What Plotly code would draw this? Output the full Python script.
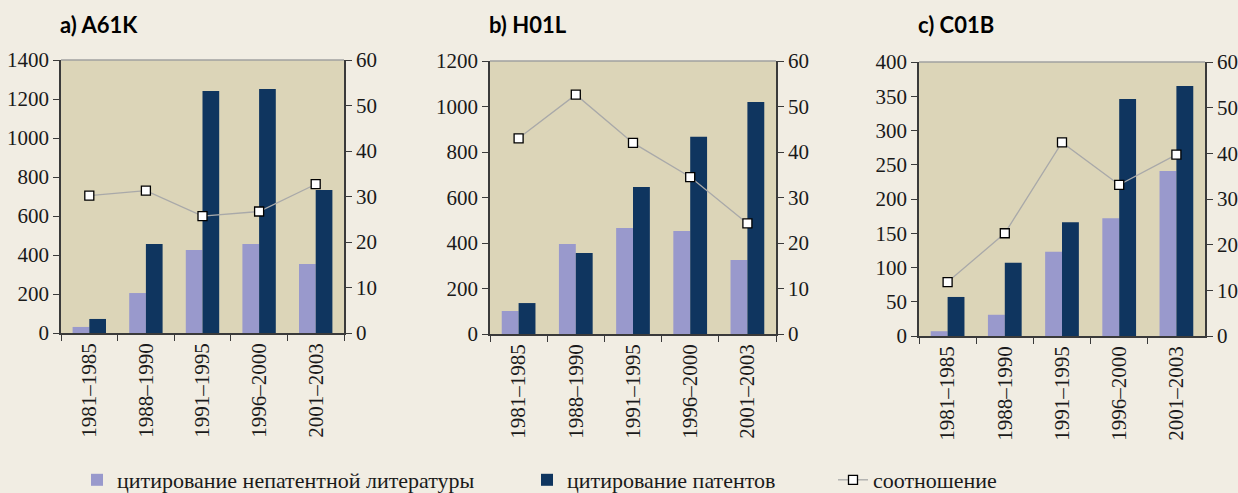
import plotly.graph_objects as go

periods = ["1981–1985", "1988–1990", "1991–1995", "1996–2000", "2001–2003"]

titles = ["a) A61K", "b) H01L", "c) C01B"]

# panel a: A61K
a_nonpat = [31, 205, 426, 456, 354]
a_pat = [72, 456, 1241, 1251, 733]
a_ratio = [30.2, 31.3, 25.7, 26.7, 32.7]

# panel b: H01L
b_nonpat = [101, 396, 466, 453, 325]
b_pat = [136, 356, 646, 867, 1020]
b_ratio = [43.0, 52.6, 42.0, 34.5, 24.3]

# panel c: C01B
c_nonpat = [7, 31, 123, 172, 241]
c_pat = [57, 107, 166, 346, 365]
c_ratio = [11.8, 22.5, 42.4, 33.1, 39.7]

left_max = [1400, 1200, 400]
left_step = [200, 200, 50]
right_max = 60
right_step = 10

names = ["цитирование непатентной литературы", "цитирование патентов", "соотношение"]

LIGHT = "#9999CC"
DARK = "#0F355F"
PAPER = "#F1EDE3"
PLOT = "#DCD5B8"
AXIS = "#3a3a3a"
SERIF = "Liberation Serif"

panels = [
    (a_nonpat, a_pat, a_ratio),
    (b_nonpat, b_pat, b_ratio),
    (c_nonpat, c_pat, c_ratio),
]

W, H = 1238, 493
# pixel boxes for plot areas (left, right, top, bottom)
boxes = [(61, 344, 60, 333), (490, 776, 61, 334), (919, 1205, 62, 336)]
legend_x = [77, 527, 833]

fig = go.Figure()
layout = dict()
shapes = []
annotations = []
legend_keys = ["legend", "legend2", "legend3"]

for i, (nonpat, pat, ratio) in enumerate(panels):
    n = i + 1
    xa = "x" if n == 1 else f"x{n}"
    ya = "y" if n == 1 else f"y{n}"
    yr_n = n + 3
    yr = f"y{yr_n}"
    show = (i == 0)
    fig.add_trace(go.Bar(x=periods, y=nonpat, name=names[0], marker_color=LIGHT,
                         marker_line=dict(width=0), xaxis=xa, yaxis=ya, showlegend=show,
                         legend="legend"))
    fig.add_trace(go.Bar(x=periods, y=pat, name=names[1], marker_color=DARK,
                         marker_line=dict(width=0), xaxis=xa, yaxis=ya, showlegend=show,
                         legend="legend2"))
    fig.add_trace(go.Scatter(x=periods, y=ratio, name=names[2], mode="lines+markers",
                             line=dict(color="#A9A9A9", width=1.3),
                             marker=dict(symbol="square", size=9, color="white",
                                         line=dict(color="black", width=1.3)),
                             xaxis=xa, yaxis=yr, showlegend=show, legend="legend3"))
    l, r, t, b = boxes[i]
    xdom = [l / W, r / W]
    ydom = [1 - b / H, 1 - t / H]
    xkey = "xaxis" if n == 1 else f"xaxis{n}"
    ykey = "yaxis" if n == 1 else f"yaxis{n}"
    layout[xkey] = dict(domain=xdom, anchor=ya, type="category",
                        showline=True, linecolor=AXIS, linewidth=1.5,
                        ticks="outside", ticklen=6, tickcolor=AXIS, tickwidth=1.3,
                        tickson="boundaries", tickangle=-90,
                        tickfont=dict(family=SERIF, size=21, color="#1a1a1a"),
                        showgrid=False, zeroline=False)
    layout[ykey] = dict(domain=ydom, anchor=xa, range=[0, left_max[i]],
                        dtick=left_step[i], tick0=0,
                        showline=True, linecolor=AXIS, linewidth=1.5,
                        ticks="outside", ticklen=6, tickcolor=AXIS, tickwidth=1.3,
                        tickfont=dict(family=SERIF, size=21, color="#1a1a1a"),
                        showgrid=False, zeroline=False)
    layout[f"yaxis{yr_n}"] = dict(overlaying=ya, anchor=xa, side="right",
                                  range=[0, right_max], dtick=right_step, tick0=0,
                                  showline=True, linecolor=AXIS, linewidth=1.5,
                                  ticks="outside", ticklen=6, tickcolor=AXIS, tickwidth=1.3,
                                  tickfont=dict(family=SERIF, size=21, color="#1a1a1a"),
                                  showgrid=False, zeroline=False)
    xref_dom = "x domain" if n == 1 else f"x{n} domain"
    yref_dom = "y domain" if n == 1 else f"y{n} domain"
    shapes.append(dict(type="line", xref=xref_dom, yref=yref_dom, x0=0, x1=1, y0=1, y1=1,
                       line=dict(color="#A0A0A0", width=1.5), layer="above"))
    annotations.append(dict(text=f"<b>{titles[i]}</b>", xref="paper", yref="paper",
                            x=(l - 3) / W, y=1 - 25 / H, xanchor="left", yanchor="middle",
                            showarrow=False,
                            font=dict(family="Lato", size=22, color="black", weight=900)))

legend_font = dict(family=SERIF, size=22, color="#1a1a1a")
for k, lx in zip(legend_keys, legend_x):
    layout[k] = dict(orientation="h", x=lx / W, y=13 / H, xanchor="left", yanchor="middle",
                     font=legend_font, bgcolor="rgba(0,0,0,0)", itemwidth=30)

fig.update_layout(**layout)
fig.update_layout(
    width=W, height=H, autosize=False,
    paper_bgcolor=PAPER, plot_bgcolor=PLOT,
    margin=dict(l=0, r=0, t=0, b=0, pad=0, autoexpand=False),
    barmode="group", bargap=0.41, bargroupgap=0,
    shapes=shapes, annotations=annotations,
)

page_fix = """
document.documentElement.style.margin='0';
document.body.style.margin='0';
document.body.style.overflow='hidden';
"""

fig.write_html("out.html", config={"responsive": False, "displayModeBar": False},
               post_script=page_fix)
